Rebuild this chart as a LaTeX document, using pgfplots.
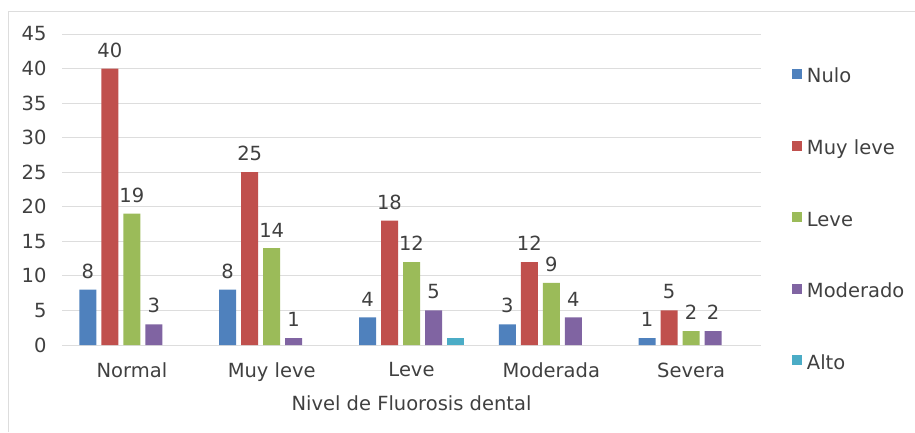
\documentclass[border=0pt]{standalone}
\usepackage{fontspec}
\setmainfont{DejaVu Sans}
\usepackage{pgfplots}
\pgfplotsset{compat=1.18}
\definecolor{cNulo}{HTML}{4F81BD}
\definecolor{cMuy}{HTML}{C0504D}
\definecolor{cLeve}{HTML}{9BBB59}
\definecolor{cMod}{HTML}{8064A2}
\definecolor{cAlto}{HTML}{4BACC6}
\definecolor{cText}{HTML}{404040}
\definecolor{cGrid}{HTML}{DDDDDD}
\newcommand{\chfont}{\fontsize{19.5}{23}\selectfont}
\begin{document}
\begin{tikzpicture}[x=1pt,y=1pt]
\useasboundingbox (0,0) rectangle (915,432);
\draw[color=cGrid, line width=1pt] (8,0) -- (8,420) -- (915,420);
\begin{axis}[
  at={(62pt,87pt)}, anchor=south west, scale only axis,
  width=699pt, height=311pt,
  xmin=-0.5, xmax=4.5, ymin=0, ymax=45,
  ytick={0,5,...,45},
  xtick={0,1,2,3,4},
  xticklabels={Normal,Muy leve,Leve,Moderada,Severa},
  axis line style={draw=none},
  major tick length=0pt,
  ymajorgrids, grid style={color=cGrid, line width=1pt},
  ybar, bar width=17pt,
  tick label style={font=\chfont, text=cText},
  yticklabel style={xshift=-12pt},
  xticklabel style={yshift=-14pt},
  /pgf/number format/assume math mode=true,
  every node near coord/.append style={font=\chfont, text=cText, inner sep=5pt, yshift=6pt},
  xlabel={Nivel de Fluorosis dental},
  xlabel style={font=\chfont, text=cText, at={(axis description cs:0.5,0)}, anchor=center, yshift=-58pt},
  legend image code/.code={\fill[#1] (0pt,-1pt) rectangle (10pt,9pt);},
  legend style={at={(1.044,0.8875)}, anchor=north west, draw=none, fill=none,
    font=\chfont, text=cText, inner sep=0pt, row sep=53.8pt,
    nodes={inner sep=0pt, text height=13.5pt, text depth=4pt},
    /tikz/every odd column/.append style={column sep=5pt}},
  legend cell align=left,
]
\addplot[fill=cNulo, draw=none, bar shift=-44pt, nodes near coords] coordinates {(0,8)(1,8)(2,4)(3,3)(4,1)};
\addplot[fill=cMuy, draw=none, bar shift=-22pt, nodes near coords] coordinates {(0,40)(1,25)(2,18)(3,12)(4,5)};
\addplot[fill=cLeve, draw=none, bar shift=0pt, nodes near coords] coordinates {(0,19)(1,14)(2,12)(3,9)(4,2)};
\addplot[fill=cMod, draw=none, bar shift=22pt, nodes near coords] coordinates {(0,3)(1,1)(2,5)(3,4)(4,2)};
\addplot[fill=cAlto, draw=none, bar shift=44pt] coordinates {(2,1)};
\legend{Nulo,Muy leve,Leve,Moderado,Alto}
\end{axis}
\end{tikzpicture}
\end{document}
